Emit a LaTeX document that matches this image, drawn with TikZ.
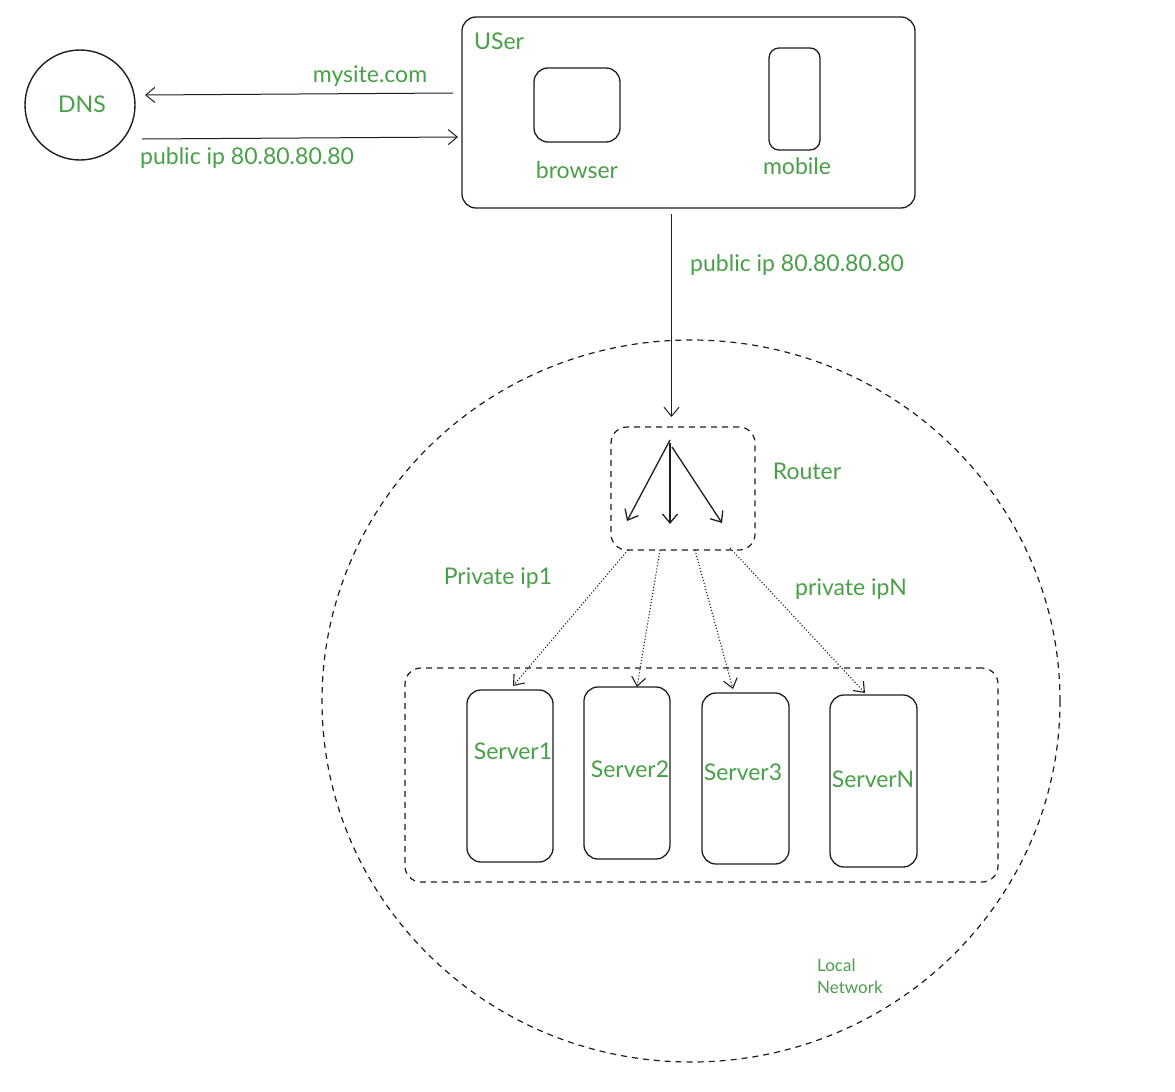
\documentclass[tikz,border=0pt]{standalone}
\usepackage{fontspec}
\setmainfont{Lato}
\usetikzlibrary{arrows.meta}
\definecolor{lblgreen}{RGB}{72,160,72}
\definecolor{inkline}{RGB}{30,30,30}
\begin{document}
\begin{tikzpicture}[x=1pt,y=-1pt,
  every node/.style={inner sep=0pt},
  lbl/.style={text=lblgreen,font=\fontsize{23}{26}\selectfont},
  small/.style={text=lblgreen,font=\fontsize{17}{22}\selectfont,align=left},
  boxline/.style={draw=inkline,line width=1.3pt,rounded corners=14pt},
  dashbox/.style={draw=inkline,line width=1.2pt,dash pattern=on 6pt off 5pt,rounded corners=16pt},
  link/.style={draw=inkline,line width=1pt,-{Straight Barb[length=9pt,width=15pt]}},
  dotlink/.style={draw=inkline,line width=1.1pt,dotted,-{Straight Barb[length=9pt,width=14pt]}}
]
\useasboundingbox (0,0) rectangle (1175,1092);
\fill[white] (0,0) rectangle (1175,1092);

% DNS server
\node[draw=inkline,line width=1.4pt,circle,minimum size=110pt] (dns) at (80,105) {};
\node[lbl] (dnslbl) at (82,104) {DNS};

% User side
\node[boxline,minimum width=453pt,minimum height=191pt] (user) at (688.5,112.5) {};
\node[lbl,anchor=west] (userlbl) at (474,41) {USer};
\node[boxline,minimum width=86pt,minimum height=74pt] (browser) at (577,105) {};
\node[lbl] (browserlbl) at (577,170) {browser};
\node[boxline,rounded corners=10pt,minimum width=51pt,minimum height=102pt] (mobile) at (794.5,99) {};
\node[lbl] (mobilelbl) at (797,166) {mobile};

% DNS lookup
\coordinate (qstart) at (453,93);
\coordinate (qend) at (145,95);
\draw[link] (qstart) -- (qend);
\node[lbl] (qlbl) at (370,76) {mysite.com};
\coordinate (astart) at (142,139);
\coordinate (aend) at (458,137);
\draw[link] (astart) -- (aend);
\node[lbl,anchor=west] (albl) at (140,158) {public ip 80.80.80.80};

% Local network
\draw[draw=inkline,line width=1.2pt,dash pattern=on 6pt off 5pt] (691,701) ellipse (369pt and 361pt);
\node[small,anchor=west] (netlbl) at (817,976) {Local\\Network};

% Router
\node[dashbox,minimum width=144pt,minimum height=123pt] (router) at (683,488.5) {};
\node[lbl] (routerlbl) at (807,471) {Router};
\coordinate (uplink) at (671.5,214);
\coordinate (upend) at (671.5,417);
\draw[link] (uplink) -- (upend);
\coordinate (hub1) at (670,440);
\coordinate (hub2) at (670,443);
\coordinate (hub3) at (672,447);
\coordinate (out1) at (627,521);
\coordinate (out2) at (670,524);
\coordinate (out3) at (722,523);
\draw[link,line width=1.3pt] (hub1) -- (out1);
\draw[link,line width=1.3pt] (hub2) -- (out2);
\draw[link,line width=1.3pt] (hub3) -- (out3);
\node[lbl,anchor=west] (uplbl) at (690,265) {public ip 80.80.80.80};

% Server group
\node[dashbox,minimum width=593pt,minimum height=214pt] (group) at (701.5,775) {};
\node[boxline,minimum width=86pt,minimum height=172pt] (s1) at (510,776) {};
\node[boxline,minimum width=86pt,minimum height=172pt] (s2) at (627,773) {};
\node[boxline,minimum width=87pt,minimum height=171pt] (s3) at (745.5,778.5) {};
\node[boxline,minimum width=87pt,minimum height=172pt] (s4) at (873.5,781) {};
\node[lbl] (s1lbl) at (513,751) {Server1};
\node[lbl] (s2lbl) at (630,769) {Server2};
\node[lbl] (s3lbl) at (743,772) {Server3};
\node[lbl] (s4lbl) at (873,779) {ServerN};

% Private links
\coordinate (r1) at (628,550);
\coordinate (r2) at (660,550);
\coordinate (r3) at (695,550);
\coordinate (r4) at (730,548);
\coordinate (t1) at (513,686);
\coordinate (t2) at (637,687);
\coordinate (t3) at (733,689);
\coordinate (t4) at (865,693);
\draw[dotlink] (r1) -- (t1);
\draw[dotlink] (r2) -- (t2);
\draw[dotlink] (r3) -- (t3);
\draw[dotlink] (r4) -- (t4);
\node[lbl] (p1lbl) at (498,578) {Private ip1};
\node[lbl] (pnlbl) at (851,589) {private ipN};
\end{tikzpicture}
\end{document}
